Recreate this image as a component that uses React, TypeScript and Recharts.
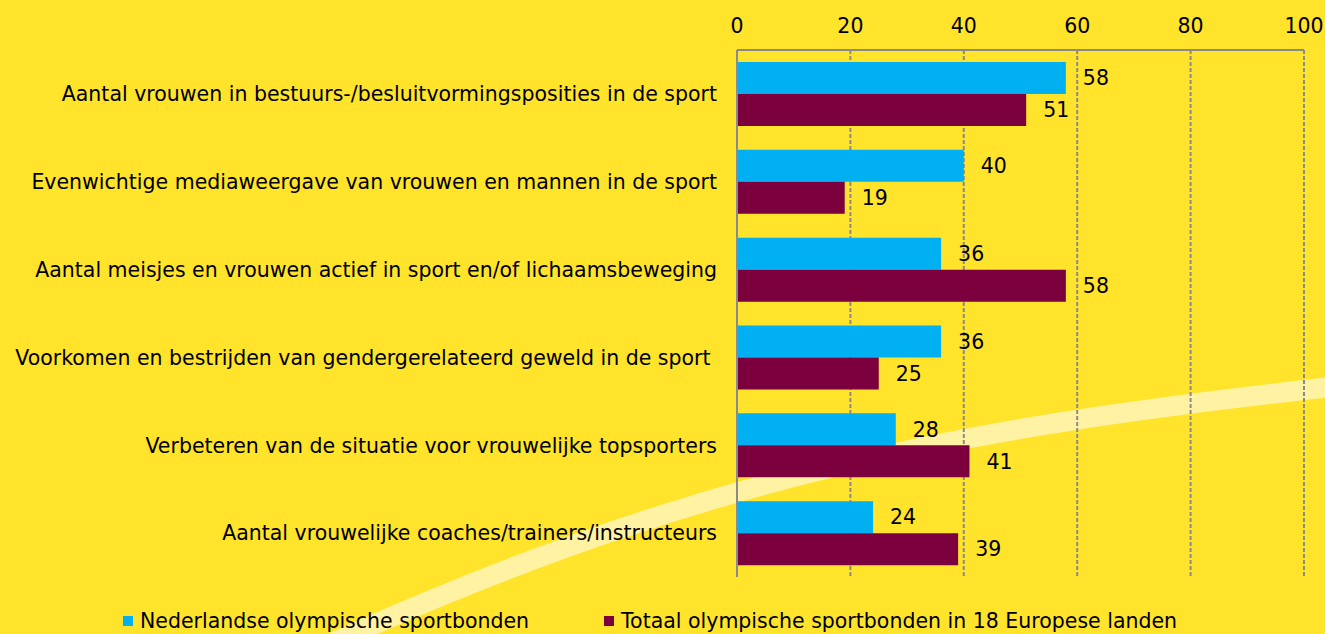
import React from "react";
import { BarChart, Bar, XAxis, YAxis, CartesianGrid, LabelList } from "recharts";

const categories = [
	"Aantal vrouwen in bestuurs-/besluitvormingsposities in de sport",
	"Evenwichtige mediaweergave van vrouwen en mannen in de sport",
	"Aantal meisjes en vrouwen actief in sport en/of lichaamsbeweging",
	"Voorkomen en bestrijden van gendergerelateerd geweld in de sport\u00a0",
	"Verbeteren van de situatie voor vrouwelijke topsporters",
	"Aantal vrouwelijke coaches/trainers/instructeurs",
];
const nederland = [58, 40, 36, 36, 28, 24];
const europa = [51, 19, 58, 25, 41, 39];
const seriesNames = [
	"Nederlandse olympische sportbonden",
	"Totaal olympische sportbonden in 18 Europese landen",
];
const xTicks = [0, 20, 40, 60, 80, 100];

const data = categories.map((name, i) => ({
	name,
	nl: nederland[i],
	eu: europa[i],
}));

const BG = "#ffe42b";
const BLUE = "#00b0f0";
const MAROON = "#7b003d";
const GRID = "#8a8a8a";
const FONT = "'DejaVu Sans', sans-serif";
const FS = 20.5;

const App: React.FC = () => {
	return (
		<div
			style={{
				position: "absolute",
				left: 0,
				top: 0,
				width: 1325,
				height: 634,
				background: BG,
				overflow: "hidden",
				fontFamily: FONT,
			}}
		>
			{/* decorative swoosh behind the chart */}
			<svg width={1325} height={634} style={{ position: "absolute", left: 0, top: 0 }}>
				<path
					d="M 290 662 C 690 478, 940 430, 1340 386"
					stroke="#fff3a3"
					strokeWidth={20}
					fill="none"
				/>
			</svg>
			<div style={{ position: "absolute", left: 0, top: 0 }}>
				<BarChart
					width={1325}
					height={634}
					layout="vertical"
					data={data}
					margin={{ top: 20, right: 21, left: 0, bottom: 57 }}
					barCategoryGap={12}
					barGap={0}
				>
					<CartesianGrid
						horizontal={false}
						stroke={GRID}
						strokeDasharray="4 2"
						strokeWidth={2}
					/>
					<XAxis
						type="number"
						orientation="top"
						domain={[0, 100]}
						ticks={xTicks}
						height={30}
						tickSize={0}
						tickMargin={17}
						tickLine={false}
						axisLine={{ stroke: GRID, strokeWidth: 2 }}
						tick={{ fill: "#000", fontSize: FS, fontFamily: FONT }}
					/>
					<YAxis
						type="category"
						dataKey="name"
						width={737}
						tickSize={0}
						tickMargin={20}
						tickLine={false}
						axisLine={{ stroke: GRID, strokeWidth: 2 }}
						tick={{ fill: "#000", fontSize: FS, fontFamily: FONT }}
					/>
					<Bar dataKey="nl" fill={BLUE} isAnimationActive={false}>
						<LabelList
							dataKey="nl"
							position="right"
							offset={17}
							fill="#000"
							fontSize={FS}
							fontFamily={FONT}
						/>
					</Bar>
					<Bar dataKey="eu" fill={MAROON} isAnimationActive={false}>
						<LabelList
							dataKey="eu"
							position="right"
							offset={17}
							fill="#000"
							fontSize={FS}
							fontFamily={FONT}
						/>
					</Bar>
				</BarChart>
			</div>
			<div
				style={{
					position: "absolute",
					top: 609,
					left: 123,
					display: "flex",
					alignItems: "center",
					fontSize: FS,
					color: "#000",
					whiteSpace: "nowrap",
				}}
			>
				{seriesNames.map((n, i) => (
					<div
						key={n}
						style={{
							display: "flex",
							alignItems: "center",
							marginRight: i === 0 ? 75 : 0,
						}}
					>
						<span
							style={{
								display: "inline-block",
								width: 10,
								height: 10,
								background: i === 0 ? BLUE : MAROON,
								marginRight: 7,
							}}
						/>
						{n}
					</div>
				))}
			</div>
		</div>
	);
};

export default App;
